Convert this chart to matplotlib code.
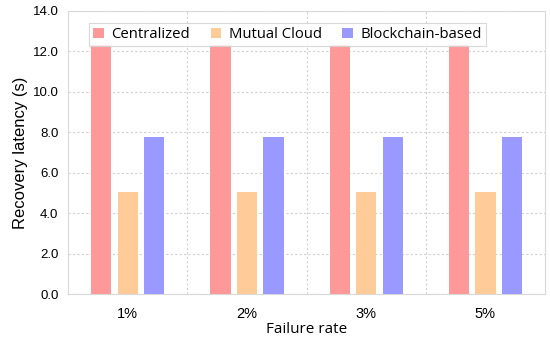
import numpy as np
import matplotlib
matplotlib.use("Agg")
import matplotlib.pyplot as plt

# data
rates = ["1%", "2%", "3%", "5%"]
centralized = [12.3, 12.32, 12.3, 12.32]
mutual_cloud = [5.05, 5.05, 5.07, 5.05]
blockchain = [7.76, 7.76, 7.76, 7.76]

series = [("Centralized", centralized, "#ff9999"),
          ("Mutual Cloud", mutual_cloud, "#ffcc99"),
          ("Blockchain-based", blockchain, "#9999ff")]

fig = plt.figure(figsize=(5.5, 3.4), dpi=100)
ax = fig.add_axes([0.124, 0.135, 0.867, 0.833])

x = np.arange(len(rates))
step = 0.222
width = 0.17
for i, (name, vals, col) in enumerate(series):
    ax.bar(x + (i - 1) * step, vals, width, color=col, label=name, zorder=3)

ax.set_xlim(-0.5, len(rates) - 0.5)
ax.set_ylim(0, 14)
ax.set_yticks(np.arange(0, 14.1, 2))
ax.set_yticklabels([f"{v:.1f}" for v in np.arange(0, 14.1, 2)],
                   family="Liberation Sans", fontsize=9.5)
ax.set_xticks(x)
ax.set_xticklabels(rates, family="Liberation Sans", fontsize=10.5)
ax.set_xticks(np.arange(0.5, len(rates) - 1, 1), minor=True)
ax.tick_params(which="both", length=0)
ax.tick_params(axis="x", pad=9)
ax.tick_params(axis="y", pad=7)

ax.grid(axis="y", which="major", linestyle=(0, (2, 2)), color="#d0d0d0", lw=0.8, zorder=0)
ax.grid(axis="x", which="minor", linestyle=(0, (2, 2)), color="#d0d0d0", lw=0.8, zorder=0)
for s in ax.spines.values():
    s.set_color("#d9d9d9")

ax.set_ylabel("Recovery latency (s)", family="Liberation Sans", fontsize=12, labelpad=3)
ax.set_xlabel("Failure rate", family="Open Sans", fontsize=11, labelpad=1)

leg = ax.legend(loc="upper center", bbox_to_anchor=(0.46, 0.985), ncol=3,
                prop={"family": "Open Sans", "size": 10.7}, frameon=True,
                fancybox=False, edgecolor="#d0d0d0", handlelength=0.7,
                handleheight=0.7, columnspacing=1.4, borderpad=0.3,
                handletextpad=0.5)
leg.get_frame().set_linewidth(0.8)

fig.savefig("out.png", dpi=100)
